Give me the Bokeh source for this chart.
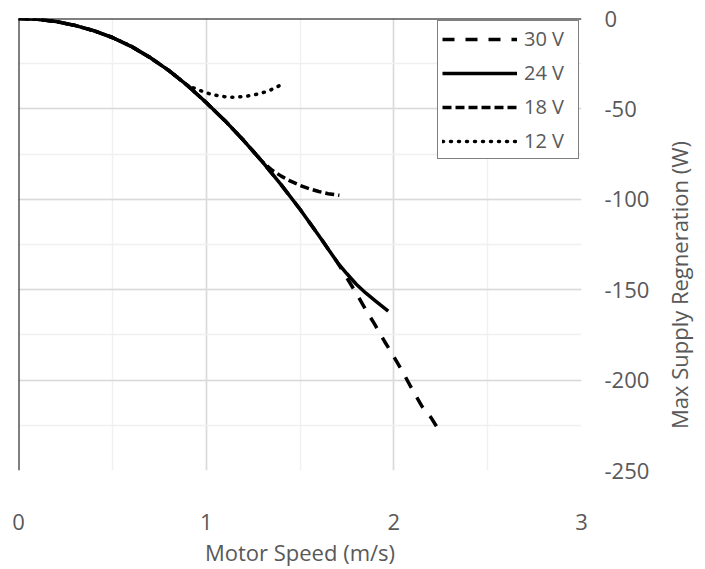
from bokeh.plotting import figure
from bokeh.layouts import row
from bokeh.models import SingleIntervalTicker, Span, Legend, LegendItem, Range1d, Div
from bokeh.embed import file_html
from bokeh.resources import INLINE

# ---- data ----
base_x = [0, 0.1, 0.2, 0.3, 0.4, 0.5, 0.6, 0.7, 0.8, 0.9]
base_y = [0, -0.4, -1.7, -3.8, -6.7, -10.5, -15.4, -21.5, -28.7, -37.0]

v30_x = base_x + [1.0, 1.1, 1.2, 1.3, 1.4, 1.5, 1.6, 1.7, 1.75, 1.8, 1.85, 1.9, 1.95, 2.0, 2.05, 2.1, 2.15, 2.2, 2.227]
v30_y = base_y + [-46.5, -56.5, -67.5, -79.3, -92.0, -105.5, -120.0, -135.0, -143.5, -152.0, -161.0, -169.5, -178.5, -187.0, -196.0, -205.5, -214.5, -221.0, -225.5]

v24_x = base_x + [1.0, 1.1, 1.2, 1.3, 1.4, 1.5, 1.6, 1.7, 1.75, 1.8, 1.85, 1.9, 1.93, 1.97]
v24_y = base_y + [-46.5, -56.5, -67.5, -79.3, -92.0, -105.5, -120.0, -135.0, -141.2, -147.0, -151.8, -156.0, -158.5, -161.8]

v18_x = base_x + [1.0, 1.1, 1.2, 1.3, 1.35, 1.4, 1.45, 1.5, 1.55, 1.6, 1.65, 1.71]
v18_y = base_y + [-46.5, -56.5, -67.5, -79.3, -83.8, -87.2, -90.0, -92.3, -94.2, -95.7, -96.9, -97.8]

v12_x = base_x + [0.938, 0.98, 1.026, 1.069, 1.112, 1.156, 1.2, 1.245, 1.289, 1.334, 1.371, 1.41]
v12_y = base_y + [-38.6, -40.3, -41.9, -42.8, -43.5, -43.5, -43.1, -42.5, -41.4, -40.0, -38.2, -36.1]

labels = ["30 V", "24 V", "18 V", "12 V"]
y_ticks = [0, -50, -100, -150, -200, -250]
y_tick_labels = ["0", "-50", "-100", "-150", "-200", "-250"]
x_title = "Motor Speed (m/s)"
y_title = "Max Supply Regneration (W)"

FONT = "Open Sans"
GREY = "#595959"
H = 569

p = figure(width=660, height=H, output_backend="svg", toolbar_location=None,
           x_range=Range1d(0, 3), y_range=Range1d(-250, 0),
           y_axis_location="right",
           min_border_left=18, min_border_top=18, min_border_right=79, min_border_bottom=80)
p.outline_line_color = None
p.background_fill_color = "white"

# axes
p.xaxis.ticker = SingleIntervalTicker(interval=1, num_minor_ticks=2)
p.yaxis.ticker = SingleIntervalTicker(interval=50, num_minor_ticks=2)
p.yaxis.major_label_overrides = dict(zip(y_ticks, y_tick_labels))
for ax in (p.xaxis[0], p.yaxis[0]):
    ax.axis_line_color = None
    ax.major_tick_line_color = None
    ax.minor_tick_line_color = None
    ax.major_label_text_font = FONT
    ax.major_label_text_font_size = "22px"
    ax.major_label_text_color = GREY
    ax.axis_label_text_font = FONT
    ax.axis_label_text_font_size = "22px"
    ax.axis_label_text_color = GREY
    ax.axis_label_text_font_style = "normal"
    ax.axis_label_standoff = 4
p.xaxis.major_label_standoff = 37
p.yaxis.major_label_standoff = 17
p.xaxis.axis_label = x_title

# grids
p.xgrid.ticker = p.xaxis[0].ticker
p.ygrid.ticker = p.yaxis[0].ticker
for g in (p.xgrid[0], p.ygrid[0]):
    g.grid_line_color = "#d9d9d9"
    g.grid_line_width = 1.5
    g.minor_grid_line_color = "#f0f0f0"
    g.minor_grid_line_width = 1.5

# axis lines at x=0 and y=0
p.add_layout(Span(location=0, dimension="height", line_color="black", line_width=2))
p.add_layout(Span(location=0, dimension="width", line_color="black", line_width=2))

r12 = p.line(v12_x, v12_y, line_color="black", line_width=3.5, line_dash="1 7", line_cap="round")
r18 = p.line(v18_x, v18_y, line_color="black", line_width=3.5, line_dash="9 4")
r30 = p.line(v30_x, v30_y, line_color="black", line_width=3.5, line_dash="12 11")
r24 = p.line(v24_x, v24_y, line_color="black", line_width=3.5)

legend = Legend(items=[LegendItem(label=labels[0], renderers=[r30]),
                       LegendItem(label=labels[1], renderers=[r24]),
                       LegendItem(label=labels[2], renderers=[r18]),
                       LegendItem(label=labels[3], renderers=[r12])],
                location="top_right")
legend.margin = 2
legend.padding = 4
legend.spacing = 7
legend.glyph_width = 75
legend.glyph_height = 20
legend.label_standoff = 7
legend.label_width = 50
legend.label_text_font = FONT
legend.label_text_font_size = "20px"
legend.label_text_color = GREY
legend.border_line_color = "black"
legend.border_line_width = 1.5
legend.background_fill_alpha = 1.0
p.add_layout(legend)

# y-axis title on the right, reading bottom-to-top
title_html = (
    f'<div style="width:30px;height:{H - 8}px;display:flex;align-items:center;'
    f'justify-content:center;">'
    f'<span style="writing-mode:vertical-rl;transform:rotate(180deg);white-space:nowrap;'
    f'font-family:\'{FONT}\';font-size:22px;color:{GREY};">{y_title}</span></div>'
)
ytitle = Div(text=title_html, width=30, height=H)

layout = row(p, ytitle)

open("out.html", "w").write(file_html(layout, INLINE))
